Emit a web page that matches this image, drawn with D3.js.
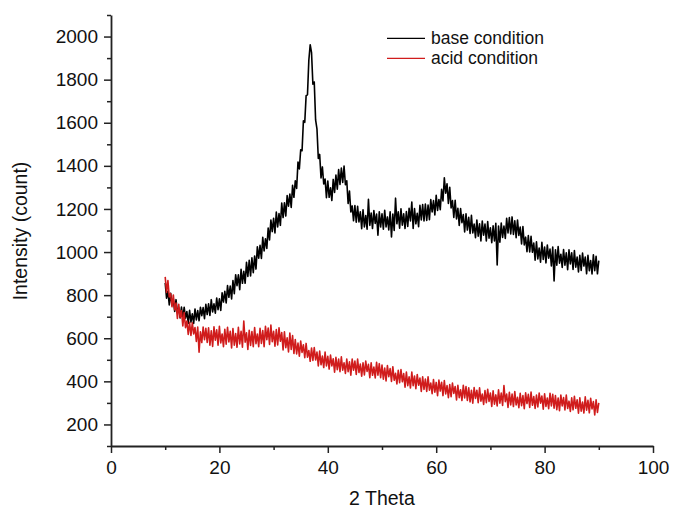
<!DOCTYPE html>
<html><head><meta charset="utf-8">
<script src="https://cdn.jsdelivr.net/npm/d3@7/dist/d3.min.js"></script>
<style>
body{margin:0;background:#fff}
svg{display:block}
text{font-family:"Liberation Sans",Arial,sans-serif;fill:#111}
</style>
</head><body>
<svg id="chart" width="673" height="508"></svg>
<script>
// 2-theta grid of the scan: first angle and step (degrees)
const thetaStart = 10;
const thetaStep = 0.25;

// base condition intensity (count); one row = 2 degrees (8 readings), 10..89.75, then 90
const baseCondition = [
  857, 786, 818, 755,   809, 755, 782, 724,
  779, 718, 742, 694,   745, 693, 744, 693,
  724, 669, 730, 675,   713, 669, 736, 685,
  728, 681, 744, 705,   742, 691, 757, 710,
  760, 706, 779, 722,   760, 716, 787, 733,
  783, 729, 811, 768,   818, 764, 844, 790,
  842, 782, 868, 807,   895, 844, 894, 825,
  920, 855, 911, 855,   952, 887, 962, 889,
  973, 904, 982, 921,   1024, 972, 1031, 970,
  1068, 1005, 1062, 1017, 1111, 1056, 1149, 1095,
  1157, 1089, 1186, 1117, 1179, 1124, 1227, 1160,
  1228, 1167, 1262, 1213, 1269, 1207, 1310, 1254,
  1331, 1295, 1418, 1386, 1475, 1470, 1609, 1602,
  1726, 1730, 1890, 1962, 1925, 1779, 1789, 1613,
  1572, 1434, 1453, 1344, 1395, 1316, 1339, 1252,
  1330, 1254, 1298, 1239, 1337, 1277, 1357, 1292,
  1383, 1314, 1390, 1323, 1399, 1312, 1331, 1225,
  1283, 1186, 1214, 1145, 1216, 1139, 1212, 1140,
  1187, 1108, 1196, 1117, 1169, 1106, 1245, 1124,
  1181, 1109, 1193, 1133, 1176, 1078, 1187, 1116,
  1177, 1106, 1194, 1117, 1163, 1103, 1187, 1070,
  1176, 1100, 1250, 1131, 1187, 1111, 1201, 1125,
  1177, 1109, 1188, 1119, 1203, 1144, 1232, 1110,
  1202, 1131, 1180, 1118, 1217, 1149, 1220, 1144,
  1223, 1147, 1218, 1150, 1244, 1186, 1239, 1172,
  1263, 1193, 1244, 1197, 1291, 1237, 1345, 1273,
  1317, 1226, 1301, 1205, 1239, 1161, 1240, 1154,
  1203, 1124, 1202, 1136, 1174, 1093, 1177, 1102,
  1161, 1086, 1170, 1089, 1130, 1067, 1149, 1074,
  1131, 1052, 1144, 1078, 1130, 1052, 1141, 1064,
  1112, 1043, 1122, 1052, 1133, 940, 1121, 1046,
  1135, 1068, 1121, 1063, 1157, 1089, 1160, 1084,
  1163, 1082, 1145, 1067, 1149, 1077, 1116, 1038,
  1118, 1033, 1069, 1002, 1076, 1000, 1073, 999,
  1042, 962, 1048, 968,  1019, 953, 1045, 966,
  1023, 950, 1033, 972,  1014, 936, 1023, 866,
  1011, 939, 1026, 948,  990, 929, 1012, 939,
  996, 918, 1010, 945,   997, 919, 1007, 930,
  977, 908, 985, 915,    995, 935, 977, 899,
  985, 913, 961, 898,    987, 914, 980, 899,
  960
];

// acid condition intensity (count), same grid
const acidCondition = [
  885, 813, 868, 792,   807, 746, 801, 732,
  763, 692, 757, 697,   728, 657, 719, 649,
  680, 618, 674, 613,   672, 620, 650, 585,
  652, 535, 630, 580,   652, 593, 646, 581,
  648, 568, 635, 562,   653, 591, 639, 568,
  655, 578, 620, 561,   642, 572, 651, 583,
  632, 555, 645, 568,   622, 558, 651, 574,
  632, 559, 680, 582,   625, 548, 637, 567,
  631, 561, 650, 575,   620, 561, 646, 576,
  636, 561, 655, 593,   647, 571, 661, 584,
  632, 563, 640, 569,   648, 586, 626, 546,
  630, 556, 602, 536,   624, 548, 612, 529,
  594, 527, 578, 517,   587, 534, 570, 510,
  576, 512, 543, 493,   555, 497, 557, 499,
  536, 472, 541, 477,   517, 464, 536, 472,
  516, 457, 522, 472,   505, 443, 512, 454,
  503, 445, 514, 452,   486, 437, 503, 445,
  491, 429, 503, 452,   494, 432, 503, 441,
  480, 424, 486, 430,   494, 446, 479, 417,
  486, 428, 466, 416,   488, 429, 482, 417,
  476, 410, 462, 402,   473, 422, 459, 400,
  468, 405, 437, 388,   451, 394, 455, 398,
  436, 373, 443, 380,   421, 369, 443, 380,
  425, 366, 432, 382,   415, 353, 421, 363,
  411, 353, 421, 359,   392, 343, 408, 350,
  395, 333, 406, 355,   396, 334, 404, 342,
  380, 324, 385, 329,   392, 344, 376, 314,
  382, 324, 361, 311,   382, 323, 376, 311,
  370, 305, 358, 299,   371, 321, 359, 301,
  370, 308, 341, 293,   357, 301, 363, 307,
  346, 284, 356, 294,   337, 286, 361, 299,
  346, 288, 380, 306,   341, 279, 349, 291,
  341, 283, 353, 291,   326, 278, 344, 287,
  334, 273, 347, 297,   340, 279, 350, 289,
  329, 274, 336, 281,   346, 299, 332, 271,
  342, 284, 323, 273,   345, 286, 340, 275,
  334, 269, 323, 264,   336, 286, 325, 267,
  336, 274, 308, 260,   324, 268, 331, 275,
  314, 252, 324, 262,   304, 253, 328, 266,
  312, 254, 321, 272,   306, 244, 314, 256,
  300
];

const seriesNames = ["base condition", "acid condition"];
const seriesColors = ["#000000", "#d01c1c"];
const xTicks = [0, 20, 40, 60, 80, 100];
const xMinorTicks = [10, 30, 50, 70, 90];
const yTicks = [200, 400, 600, 800, 1000, 1200, 1400, 1600, 1800, 2000];
const yMinorTicks = [100, 300, 500, 700, 900, 1100, 1300, 1500, 1700, 1900, 2100];
const xLabel = "2 Theta";
const yLabel = "Intensity (count)";

const svg = d3.select("#chart");
const x = d3.scaleLinear().domain([0, 100]).range([111, 653]);
const y = d3.scaleLinear().domain([100, 2100]).range([446, 15]);

const series = [baseCondition, acidCondition].map((vals, k) => ({
  name: seriesNames[k],
  color: seriesColors[k],
  points: vals.map((v, i) => [thetaStart + i * thetaStep, v])
}));

const line = d3.line().x(d => x(d[0])).y(d => y(d[1]));

svg.append("g").selectAll("path").data(series).join("path")
  .attr("d", d => line(d.points))
  .attr("fill", "none")
  .attr("stroke", d => d.color)
  .attr("stroke-width", 1.6)
  .attr("stroke-linejoin", "round");

const axisColor = "#222";
function styleAxis(g) {
  g.selectAll("path.domain").attr("stroke", axisColor).attr("stroke-width", 1.8);
  g.selectAll(".tick line").attr("stroke", axisColor).attr("stroke-width", 1.5);
  g.selectAll(".tick text").attr("fill", "#111")
    .style("font-size", "19px").style("font-family", '"Liberation Sans", Arial, sans-serif');
}

// minor ticks
svg.append("g").attr("transform", "translate(0,446)")
  .call(d3.axisBottom(x).tickValues(xMinorTicks).tickSize(4).tickFormat(""))
  .call(g => g.select(".domain").remove())
  .call(styleAxis);
svg.append("g").attr("transform", "translate(111,0)")
  .call(d3.axisLeft(y).tickValues(yMinorTicks).tickSize(4).tickFormat(""))
  .call(g => g.select(".domain").remove())
  .call(styleAxis);

// major axes
svg.append("g").attr("transform", "translate(0,446)")
  .call(d3.axisBottom(x).tickValues(xTicks).tickSize(7).tickSizeOuter(0).tickPadding(8).tickFormat(d3.format("d")))
  .call(styleAxis);
svg.append("g").attr("transform", "translate(111,0)")
  .call(d3.axisLeft(y).tickValues(yTicks).tickSize(7).tickSizeOuter(0).tickPadding(6).tickFormat(d3.format("d")))
  .call(styleAxis);

// axis titles
svg.append("text").attr("x", 382).attr("y", 505).attr("text-anchor", "middle")
  .style("font-size", "19.5px").text(xLabel);
svg.append("text").attr("transform", "translate(27,231) rotate(-90)")
  .attr("text-anchor", "middle").style("font-size", "19.5px").text(yLabel);

// legend
const leg = svg.append("g").selectAll("g").data(series).join("g")
  .attr("transform", (d, i) => `translate(387,${38.3 + i * 20})`);
leg.append("line").attr("x1", 0).attr("x2", 38).attr("y1", 0).attr("y2", 0)
  .attr("stroke", d => d.color).attr("stroke-width", 1.2);
leg.append("text").attr("x", 44).attr("dy", "0.35em")
  .style("font-size", "17.5px").text(d => d.name);
</script>
</body></html>
